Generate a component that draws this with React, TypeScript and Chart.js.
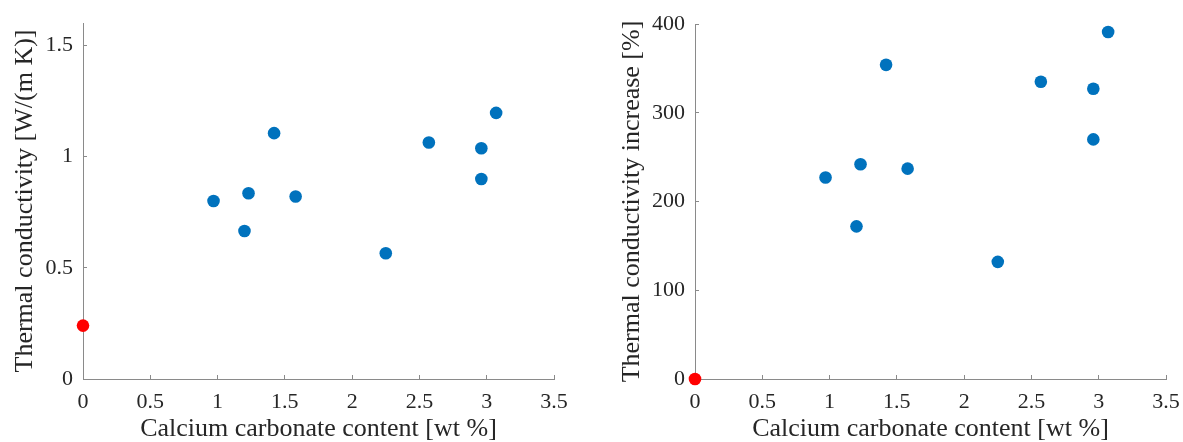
import React, { useEffect, useRef } from "react";
import { Chart, registerables } from "chart.js";

Chart.register(...registerables);

// ---- data ----
const CACO3_CONTENT = [0.97, 1.2, 1.23, 1.42, 1.58, 2.25, 2.57, 2.96, 2.96, 3.07];
const CONDUCTIVITY = [0.8, 0.665, 0.835, 1.105, 0.82, 0.565, 1.063, 1.037, 0.899, 1.196];
const CONDUCTIVITY_INCREASE = [227, 172, 242, 354, 237, 132, 335, 327, 270, 391];
const REFERENCE_X = [0];
const REFERENCE_CONDUCTIVITY = [0.24];
const REFERENCE_INCREASE = [0];

const X_TICKS = [0, 0.5, 1, 1.5, 2, 2.5, 3, 3.5];
const LEFT_Y_TICKS = [0, 0.5, 1, 1.5];
const RIGHT_Y_TICKS = [0, 100, 200, 300, 400];

const X_TITLE = "Calcium carbonate content [wt %]";
const LEFT_Y_TITLE = "Thermal conductivity [W/(m K)]";
const RIGHT_Y_TITLE = "Thermal conductivity increase [%]";

const BLUE = "#0072BD";
const RED = "#FF0000";
const AXIS = "#8a8a8a";
const TEXT = "#262626";
const FONT = "'Liberation Serif', 'Times New Roman', serif";

type PanelProps = {
  left: number;
  width: number;
  yWidth: number;
  topPad: number;
  rightPad: number;
  yMax: number;
  yTicks: number[];
  yTitle: string;
  yTitlePad: number;
  values: number[];
  refValues: number[];
};

function zeroPadding(s: any) {
  s.paddingLeft = 0;
  s.paddingRight = 0;
  s.paddingTop = 0;
  s.paddingBottom = 0;
}

function Panel(p: PanelProps) {
  const ref = useRef<HTMLCanvasElement | null>(null);
  useEffect(() => {
    if (!ref.current) return;
    const pts = CACO3_CONTENT.map((x, i) => ({ x, y: p.values[i] }));
    const refPts = REFERENCE_X.map((x, i) => ({ x, y: p.refValues[i] }));
    const chart = new Chart(ref.current, {
      type: "scatter",
      data: {
        datasets: [
          {
            data: pts,
            backgroundColor: BLUE,
            borderColor: BLUE,
            borderWidth: 0,
            pointRadius: 6.3,
            clip: false as any,
          },
          {
            data: refPts,
            backgroundColor: RED,
            borderColor: RED,
            borderWidth: 0,
            pointRadius: 6.3,
            clip: false as any,
          },
        ],
      },
      options: {
        animation: false,
        responsive: false,
        devicePixelRatio: 1,
        layout: { padding: { left: 0, top: p.topPad, right: p.rightPad, bottom: 0 } },
        plugins: { legend: { display: false }, tooltip: { enabled: false } },
        scales: {
          x: {
            type: "linear",
            min: 0,
            max: 3.5,
            afterBuildTicks: (s: any) => {
              s.ticks = X_TICKS.map((v) => ({ value: v }));
            },
            afterFit: (s: any) => {
              s.height = 63;
              zeroPadding(s);
            },
            grid: { drawOnChartArea: false, drawTicks: true, tickLength: -4, color: AXIS, lineWidth: 1 },
            border: { display: true, color: AXIS, width: 1 },
            ticks: {
              padding: 14,
              color: TEXT,
              font: { family: FONT, size: 22 },
              maxRotation: 0,
              autoSkip: false,
              callback: (v: any) => String(v),
            },
            title: {
              display: true,
              text: X_TITLE,
              color: TEXT,
              font: { family: FONT, size: 26, lineHeight: 1 },
              padding: { top: 0, bottom: 0 },
            },
          },
          y: {
            type: "linear",
            min: 0,
            max: p.yMax,
            afterBuildTicks: (s: any) => {
              s.ticks = p.yTicks.map((v) => ({ value: v }));
            },
            afterFit: (s: any) => {
              s.width = p.yWidth;
              zeroPadding(s);
            },
            grid: { drawOnChartArea: false, drawTicks: true, tickLength: -4, color: AXIS, lineWidth: 1 },
            border: { display: true, color: AXIS, width: 1 },
            ticks: {
              padding: 14,
              color: TEXT,
              font: { family: FONT, size: 22 },
              autoSkip: false,
              callback: (v: any) => String(v),
            },
            title: {
              display: true,
              text: p.yTitle,
              color: TEXT,
              font: { family: FONT, size: 26, lineHeight: 1 },
              padding: { top: p.yTitlePad, bottom: 0 },
            },
          },
        },
      },
    } as any);
    return () => chart.destroy();
  }, []);
  return (
    <canvas
      ref={ref}
      width={p.width}
      height={442}
      style={{ position: "absolute", left: p.left, top: 0, width: p.width, height: 442, display: "block" }}
    />
  );
}

export default function App() {
  return (
    <div style={{ position: "fixed", left: 0, top: 0, width: 1183, height: 442, background: "#fff" }}>
      <Panel
        left={0}
        width={590}
        yWidth={83}
        topPad={23}
        rightPad={36}
        yMax={1.6}
        yTicks={LEFT_Y_TICKS}
        yTitle={LEFT_Y_TITLE}
        yTitlePad={12}
        values={CONDUCTIVITY}
        refValues={REFERENCE_CONDUCTIVITY}
      />
      <Panel
        left={590}
        width={593}
        yWidth={105}
        topPad={24}
        rightPad={17}
        yMax={400}
        yTicks={RIGHT_Y_TICKS}
        yTitle={RIGHT_Y_TITLE}
        yTitlePad={29}
        values={CONDUCTIVITY_INCREASE}
        refValues={REFERENCE_INCREASE}
      />
    </div>
  );
}
